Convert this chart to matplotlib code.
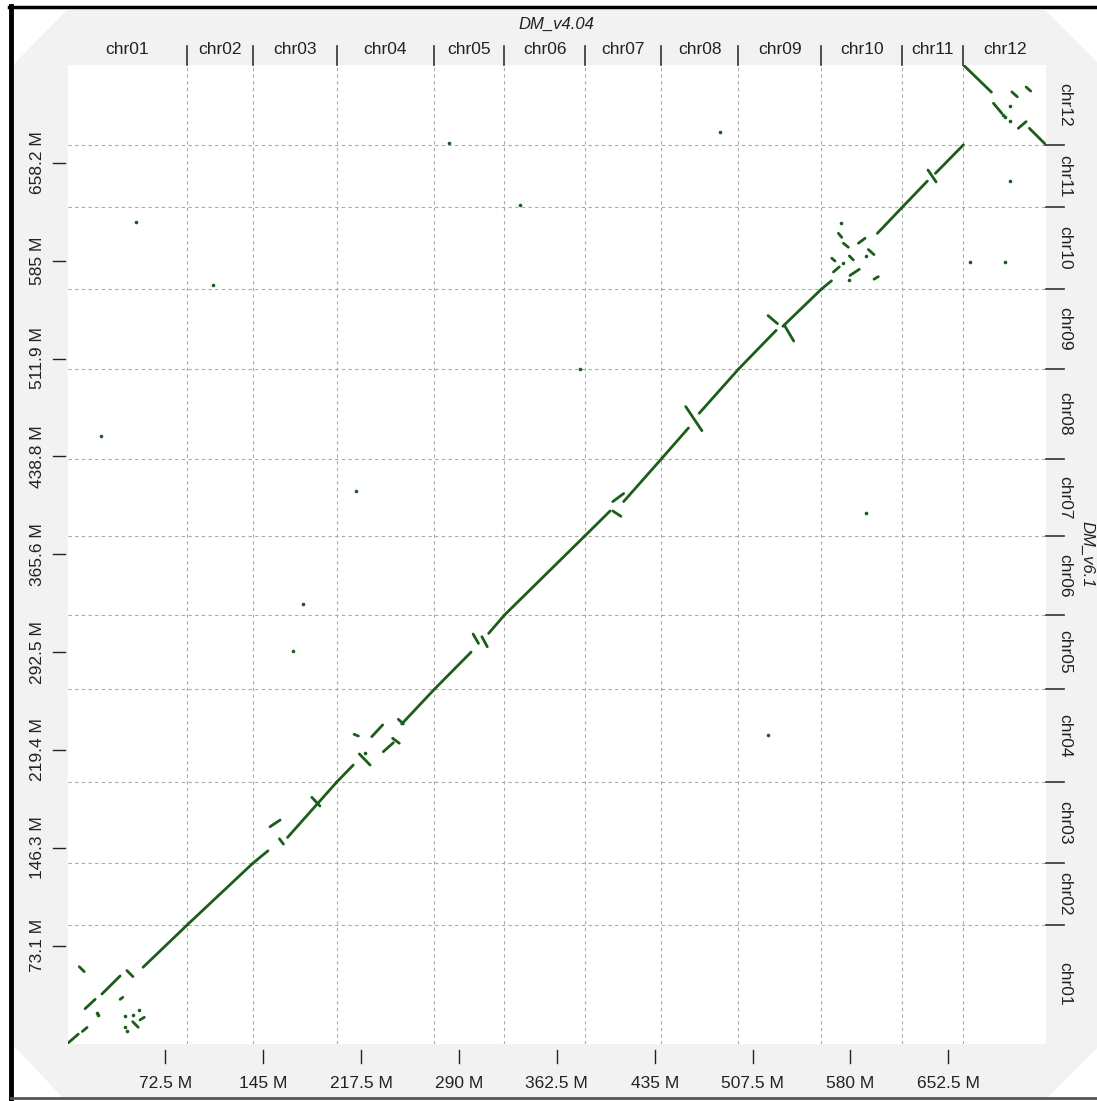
import matplotlib
matplotlib.use('Agg')
import matplotlib.pyplot as plt
from matplotlib.patches import Polygon
from matplotlib.lines import Line2D
import numpy as np

plt.rcParams['font.family'] = ['Liberation Sans Narrow', 'Liberation Sans', 'DejaVu Sans']

# chromosome names and lengths (Mb) for both assemblies
chroms = ['chr01', 'chr02', 'chr03', 'chr04', 'chr05', 'chr06',
          'chr07', 'chr08', 'chr09', 'chr10', 'chr11', 'chr12']
x_lengths = [88.66, 48.61, 62.19, 72.21, 52.07, 59.53, 56.76, 56.94, 61.54, 59.76, 45.48, 61.17]
y_lengths = [88.59, 46.10, 60.71, 69.24, 55.60, 59.09, 57.64, 66.90, 59.93, 61.04, 46.78, 59.67]

x_tick_vals = [72.5, 145, 217.5, 290, 362.5, 435, 507.5, 580, 652.5]
x_tick_labels = ['72.5 M', '145 M', '217.5 M', '290 M', '362.5 M', '435 M', '507.5 M', '580 M', '652.5 M']
y_tick_vals = [73.1, 146.3, 219.4, 292.5, 365.6, 438.8, 511.9, 585, 658.2]
y_tick_labels = ['73.1 M', '146.3 M', '219.4 M', '292.5 M', '365.6 M', '438.8 M', '511.9 M', '585 M', '658.2 M']

# alignment segments (Mb): start x, start y, end x, end y
seg_x0 = [0, 11, 13, 25.5, 56, 44, 8.7, 39, 48.3, 53.7,
          88.66,
          137.28, 150, 163, 181, 157,
          199.47, 216.2, 212.3, 225.4, 234, 240.9, 245.1, 247.6,
          271.68, 300.5, 307, 312,
          323.75,
          383.28, 404, 404, 412,
          440.04, 458, 468,
          496.98, 519, 531, 530,
          558.52, 571.1, 574.8, 566.2, 579.2, 567.4, 579.7, 585.9, 593.3, 597.5, 600,
          618.28, 637.5, 643,
          663.75, 686, 699.6, 710.2, 704.4, 712.6]
seg_y0 = [0, 9, 26, 37, 57, 54.5, 57.4, 33, 16.3, 17.6,
          88.59,
          134.69, 162, 154, 184, 153,
          195.40, 216.4, 231.1, 229.3, 218.1, 228.1, 242.3, 238.8,
          264.64, 306, 304, 306.5,
          320.24,
          379.33, 405, 398, 405,
          436.97, 476, 471,
          503.87, 544, 537, 536,
          563.80, 605.5, 598.1, 586.9, 588.6, 576.6, 574.0, 598.1, 593.4, 571.2, 605.5,
          624.84, 652.8, 650.3,
          731.29, 702.7, 711.2, 714.8, 684, 684]
seg_x1 = [8, 14.5, 20.5, 39, 88.66, 48.5, 12.4, 41, 52.4, 56.9,
          137.28,
          148.5, 157.5, 199.47, 187, 160,
          211.7, 224.2, 215.5, 233.5, 241.4, 245.8, 248.8, 271.68,
          299, 304.5, 311, 323.75,
          383.28,
          402, 412, 410, 440.04,
          460, 470, 496.98,
          525, 526, 538, 558.52,
          566, 573.6, 578.5, 568.6, 582.2, 571.8, 586.6, 590.9, 597.5, 600.7, 618.28,
          637, 643.5, 663.75,
          684.5, 692.2, 703.7, 713.6, 710.2, 724.92]
seg_y1 = [7, 12, 33, 50.5, 88.59, 50, 53.7, 34.5, 12.1, 19.6,
          134.69,
          144, 167, 195.40, 177.5, 149,
          208.1, 208.1, 229.8, 238.1, 224.8, 224.4, 238.8, 264.64,
          292.5, 299, 296.5, 320.24,
          379.33,
          398, 411, 394, 436.97,
          460, 458, 503.87,
          533, 538, 525, 563.80,
          570, 602.5, 595.1, 584.8, 585.6, 580.4, 578.6, 601.8, 589.6, 573.1, 624.84,
          644.5, 643.9, 671.62,
          711, 695.2, 707.5, 711.8, 689, 671.62]

# isolated short matches (Mb)
dot_x = [22, 22.5, 42.6, 48.7, 53.2, 42.8, 43.9, 220.4, 572.9, 574.8, 579.2, 591.6,
         693.1, 694.6, 698.3, 698.3,
         24.8, 50.8, 107.8, 282.6, 335.2, 379.7, 483.4, 698.3, 668.7, 694.6,
         213.8, 174.5, 167.1, 519, 591.6]
dot_y = [23, 21.5, 20.6, 21.3, 25, 12.6, 9.6, 216.9, 613.5, 583.6, 570.6, 588.7,
         694, 692.7, 689.4, 701,
         454.0, 614, 566.9, 673, 626.7, 504.1, 681.2, 644.6, 584.1, 584.1,
         412.9, 328.5, 293.3, 230.6, 396.5]

FIG_W, FIG_H = 1097, 1101
AX_L, AX_R, AX_T, AX_B = 67.5, 1046, 65, 1043.5
line_col = '#1a5e1a'
LABEL_SIZE = 12.5


def fx(px):
    return px / FIG_W


def fy(py):
    return 1 - py / FIG_H


fig = plt.figure(figsize=(FIG_W / 100, FIG_H / 100), dpi=100)
fig.patch.set_facecolor('white')

# grey octagonal backdrop
oct_px = [(13, 65), (67, 10), (1045, 10), (1100, 65), (1100, 1045),
          (1045, 1100), (65, 1100), (13, 1045)]
fig.patches.append(Polygon([(fx(a), fy(b)) for a, b in oct_px], closed=True,
                           transform=fig.transFigure, facecolor='#f2f2f2',
                           edgecolor='none', zorder=-10))
# frame lines of the original screenshot
fig.lines.append(Line2D([fx(9), fx(1097)], [fy(7), fy(7)], transform=fig.transFigure,
                        color='black', lw=2.5, zorder=10))
fig.lines.append(Line2D([fx(11), fx(11)], [fy(6), fy(1101)], transform=fig.transFigure,
                        color='black', lw=3.5, zorder=10))
fig.lines.append(Line2D([fx(11), fx(1097)], [fy(1098), fy(1098)], transform=fig.transFigure,
                        color='#555555', lw=2.0, zorder=10))

ax = fig.add_axes([fx(AX_L), fy(AX_B), (AX_R - AX_L) / FIG_W, (AX_B - AX_T) / FIG_H])
ax.set_zorder(2)
ax.set_facecolor('white')
for s in ax.spines.values():
    s.set_visible(False)
ax.set_xticks([])
ax.set_yticks([])

x_total = sum(x_lengths)
y_total = sum(y_lengths)
ax.set_xlim(0, x_total)
ax.set_ylim(0, y_total)

x_bounds = np.cumsum(x_lengths)
y_bounds = np.cumsum(y_lengths)
x_starts = x_bounds - np.array(x_lengths)
y_starts = y_bounds - np.array(y_lengths)

# chromosome boundary grid
for b in x_bounds[:-1]:
    ax.axvline(b, color='#aaaaaa', lw=0.8, ls=(0, (3, 3)), zorder=1)
for b in y_bounds[:-1]:
    ax.axhline(b, color='#aaaaaa', lw=0.8, ls=(0, (3, 3)), zorder=1)

# alignments
for x0, y0, x1, y1 in zip(seg_x0, seg_y0, seg_x1, seg_y1):
    ax.plot([x0, x1], [y0, y1], color=line_col, lw=2.0, solid_capstyle='round', zorder=3)
ax.plot(dot_x, dot_y, 'o', color=line_col, ms=2.6, mew=0, zorder=3)

tx = ax.get_xaxis_transform()
ty = ax.get_yaxis_transform()
px_w = AX_R - AX_L
px_h = AX_B - AX_T

# bottom ticks and labels
for v, lab in zip(x_tick_vals, x_tick_labels):
    ax.plot([v, v], [-6.5 / px_h, -19.5 / px_h], transform=tx, color='#222222',
            lw=1.0, clip_on=False)
    ax.text(v, -39.5 / px_h, lab, transform=tx, ha='center', va='center',
            fontsize=LABEL_SIZE, color='#222222')

# left ticks and labels
for v, lab in zip(y_tick_vals, y_tick_labels):
    ax.plot([-14.5 / px_w, -2.5 / px_w], [v, v], transform=ty, color='#222222',
            lw=1.0, clip_on=False)
    ax.text(-29.5 / px_w, v, lab, transform=ty, ha='center', va='center',
            rotation=90, fontsize=LABEL_SIZE, color='#222222')

# top chromosome names
for name, st, ln in zip(chroms, x_starts, x_lengths):
    ax.text(st + ln / 2, 1 + 15 / px_h, name, transform=tx, ha='center', va='center',
            fontsize=LABEL_SIZE, color='#222222')
for b in x_bounds[:-1]:
    ax.plot([b, b], [1.0, 1 + 19 / px_h], transform=tx, color='#333333', lw=1.2,
            clip_on=False)

# right chromosome names
for name, st, ln in zip(chroms, y_starts, y_lengths):
    ax.text(1 + 19 / px_w, st + ln / 2, name, transform=ty, ha='center', va='center',
            rotation=-90, fontsize=LABEL_SIZE, color='#222222')
for b in y_bounds[:-1]:
    ax.plot([1.0, 1 + 18 / px_w], [b, b], transform=ty, color='#333333', lw=1.2,
            clip_on=False)

ax.text(0.5, 1 + 41 / px_h, 'DM_v4.04', transform=ax.transAxes, ha='center',
        va='center', fontsize=12, style='italic', color='#222222')
ax.text(1 + 41 / px_w, 0.5, 'DM_v6.1', transform=ax.transAxes, ha='center',
        va='center', rotation=-90, fontsize=12, style='italic', color='#222222')

fig.savefig('out.png', dpi=100, facecolor='white')
